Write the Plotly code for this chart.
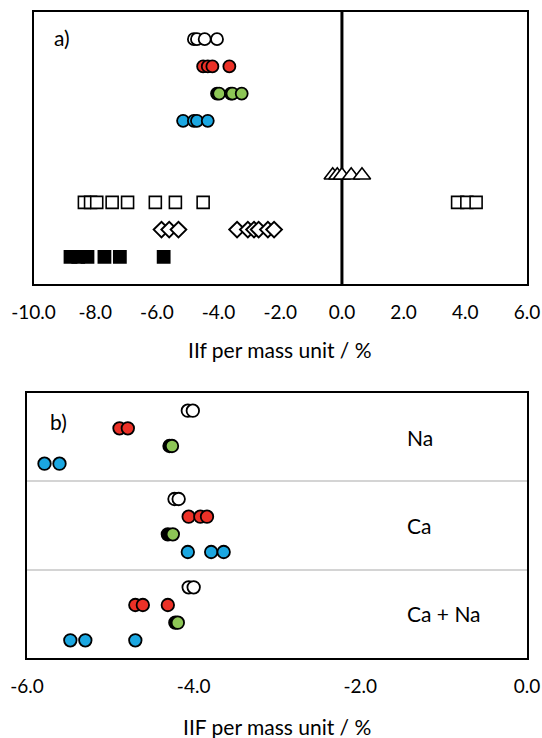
import plotly.graph_objects as go

W, H = 542, 738
OFF = 0  # page body margin removed via post_script

# ---------------- Panel a data ----------------
a_white = [-4.8, -4.7, -4.45, -4.05]
a_red = [-4.5, -4.35, -4.2, -3.65]
a_green_dark = [-4.05]
a_green = [-3.98, -3.6, -3.55, -3.25]
a_blue = [-5.15, -4.8, -4.7, -4.35]
a_triangles = [-0.3, -0.15, 0.0, 0.3, 0.65]
a_open_sq = [-8.35, -8.15, -7.95, -7.45, -6.95, -6.05, -5.4, -4.5, 3.75, 4.05, 4.35]
a_diamonds = [-5.85, -5.6, -5.3, -3.4, -3.05, -2.85, -2.7, -2.4, -2.2]
a_filled_sq = [-8.8, -8.55, -8.25, -7.7, -7.2, -5.78]
a_rows = {"white": 9, "red": 8, "green": 7, "blue": 6, "tri": 4, "osq": 3, "dia": 2, "fsq": 1}

# ---------------- Panel b data ----------------
groups = ["Na", "Ca", "Ca + Na"]
b_white = [[-4.07, -4.01], [-4.23, -4.18], [-4.06, -4.0]]
b_red = [[-4.89, -4.79], [-4.06, -3.92, -3.84], [-4.7, -4.61, -4.31]]
b_green_dark = [[-4.29], [-4.31], [-4.22]]
b_green = [[-4.26], [-4.25], [-4.19]]
b_blue = [[-5.79, -5.61], [-4.07, -3.79, -3.64], [-5.48, -5.3, -4.7]]
b_group_base = [11, 6, 1]  # y of blue row in each group; white/red/green above

a_ticks = [-10, -8, -6, -4, -2, 0, 2, 4, 6]
a_ticktext = ["-10.0", "-8.0", "-6.0", "-4.0", "-2.0", "0.0", "2.0", "4.0", "6.0"]
b_ticks = [-6, -4, -2, 0]
b_ticktext = ["-6.0", "-4.0", "-2.0", "0.0"]

RED = "#EC3127"
GREEN = "#8DC656"
BLUE = "#1BA7E1"
FONT = "Lato"

fig = go.Figure()

def add(xs, y, symbol, fill, size, lw=1.8, xa="x", ya="y"):
    fig.add_trace(go.Scatter(
        x=xs, y=[y] * len(xs), mode="markers", xaxis=xa, yaxis=ya,
        marker=dict(symbol=symbol, size=size, color=fill,
                    line=dict(color="black", width=lw)),
        showlegend=False, hoverinfo="x"))

# panel a
add(a_white, a_rows["white"], "circle", "white", 12)
add(a_red, a_rows["red"], "circle", RED, 12)
add(a_green_dark, a_rows["green"], "circle", "black", 12)
add(a_green, a_rows["green"], "circle", GREEN, 12)
add(a_blue, a_rows["blue"], "circle", BLUE, 12)
add(a_triangles, a_rows["tri"], "triangle-up", "white", 15, lw=1.6)
add(a_open_sq, a_rows["osq"], "square", "white", 12, lw=1.6)
add(a_diamonds, a_rows["dia"], "diamond", "white", 12, lw=2)
add(a_filled_sq, a_rows["fsq"], "square", "black", 12)

# panel b
for i in range(3):
    base = b_group_base[i]
    add(b_white[i], base + 3, "circle", "white", 12.5, xa="x2", ya="y2")
    add(b_red[i], base + 2, "circle", RED, 12.5, xa="x2", ya="y2")
    add(b_green_dark[i], base + 1, "circle", "black", 12.5, xa="x2", ya="y2")
    add(b_green[i], base + 1, "circle", GREEN, 12.5, xa="x2", ya="y2")
    add(b_blue[i], base, "circle", BLUE, 12.5, xa="x2", ya="y2")

# zero line in panel a
fig.add_shape(type="line", xref="x", yref="y domain", x0=0, x1=0, y0=0, y1=1,
              line=dict(color="black", width=3), layer="below")

def px_x(p):
    return (p - OFF) / W

def px_y(p):
    return 1 - (p - OFF) / H

axis_common = dict(showline=True, mirror=True, linecolor="black", linewidth=1.5,
                   zeroline=False, showgrid=False, automargin=False)

fig.update_layout(
    width=W, height=H, margin=dict(l=0, r=0, t=0, b=0, pad=0),
    paper_bgcolor="white", plot_bgcolor="white",
    font=dict(family=FONT, size=19, color="black"),
    xaxis=dict(domain=[px_x(33.5), px_x(527)], range=[-10, 6], anchor="y",
               tickvals=a_ticks, ticktext=a_ticktext, ticks="outside", ticklen=10,
               tickcolor="rgba(0,0,0,0)", **axis_common),
    yaxis=dict(domain=[px_y(284), px_y(12)], range=[0, 10], anchor="x",
               showticklabels=False, ticks="", **axis_common),
    xaxis2=dict(domain=[px_x(27), px_x(527)], range=[-6, 0], anchor="y2",
                tickvals=b_ticks, ticktext=b_ticktext, ticks="outside", ticklen=10,
                tickcolor="rgba(0,0,0,0)", **axis_common),
    yaxis2=dict(domain=[px_y(658), px_y(393)], range=[0, 15], anchor="x2",
                showticklabels=False, ticks="", tickvals=[5, 10],
                showline=True, mirror=True, linecolor="black", linewidth=1.5,
                zeroline=False, showgrid=True, gridcolor="#D4D4D4", gridwidth=1.5,
                automargin=False),
)

ann = [
    dict(text="a)", x=px_x(62), y=px_y(37), xref="paper", yref="paper",
         xanchor="center", yanchor="middle", showarrow=False, font=dict(size=21)),
    dict(text="b)", x=px_x(58), y=px_y(421), xref="paper", yref="paper",
         xanchor="center", yanchor="middle", showarrow=False, font=dict(size=21)),
    dict(text="IIf per mass unit / %", x=px_x(280), y=px_y(349), xref="paper", yref="paper",
         xanchor="center", yanchor="middle", showarrow=False, font=dict(size=21)),
    dict(text="IIF per mass unit / %", x=px_x(277), y=px_y(726), xref="paper", yref="paper",
         xanchor="center", yanchor="middle", showarrow=False, font=dict(size=21)),
]
for i, g in enumerate(groups):
    ann.append(dict(text=g, x=-1.47, y=b_group_base[i] + 1.5, xref="x2", yref="y2",
                    xanchor="left", yanchor="middle", showarrow=False, font=dict(size=21)))
fig.update_layout(annotations=ann)

fig.write_html(
    "out.html",
    config={"displayModeBar": False},
    post_script="document.body.style.margin='0';document.body.style.overflow='hidden';",
)
